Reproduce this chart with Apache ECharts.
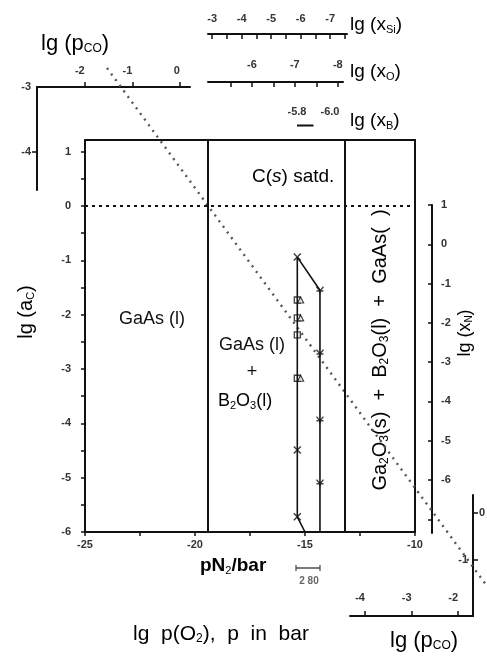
<!DOCTYPE html>
<html><head><meta charset="utf-8">
<script src="https://cdn.jsdelivr.net/npm/echarts@6/dist/echarts.min.js"></script>
<style>html,body{margin:0;padding:0;background:#fff}#c{width:487px;height:657px}</style>
</head><body><div id="c"></div>
<script>
// ---- main diagram: lg p(O2) vs lg a_C ----
const mainXLabels = [-25, -20, -15, -10];
const mainXTicks = [-25, -22.5, -20, -17.5, -15, -12.5, -10];
const mainYLabels = [1, 0, -1, -2, -3, -4, -5, -6];
const mainYTicks = [1, 0.5, 0, -0.5, -1, -1.5, -2, -2.5, -3, -3.5, -4, -4.5, -5, -5.5, -6];
const phaseBoundaries = [-19.4, -13.2];
const carbonSaturation = 0;
const isobarX = [-24.0, -6.7];
const isobarY = [2.54, -7.01];
const loopX = [-15.0, -15.35, -15.35, -14.32, -14.32];
const loopY = [-6.0, -5.72, -0.94, -1.55, -6.0];
const run1X = -15.35;
const run1TriX = -15.2;
const squareY = [-1.73, -2.06, -2.37, -3.17];
const triangleY = [-1.73, -2.06, -3.17];
const crossY = [-0.94, -4.49, -5.72];
const run2X = -14.32;
const starY = [-1.55, -2.71, -3.94, -5.10];
// ---- auxiliary scales ----
const pcoTopXLabels = [-2, -1, 0];
const pcoTopYLabels = [-3, -4];
const pcoBotXLabels = [-4, -3, -2];
const pcoBotYLabelsRight = [0];
const pcoBotYLabelsLeft = [-1];
const xSiLabels = [-3, -4, -5, -6, -7];
const xSiTicks = [-3, -3.5, -4, -4.5, -5, -5.5, -6, -6.5, -7, -7.5];
const xOLabels = [-6, -7, -8];
const xOTicks = [-5.5, -6, -6.5, -7, -7.5, -8];
const xBLabels = [-5.8, -6.0];
const xBSegment = [-5.8, -5.9];
const xNLabels = [1, 0, -1, -2, -3, -4, -5, -6];
const xNTicks = [1, 0, -1, -2, -3, -4, -5, -6, -7];

const FONT = '"Liberation Sans", Arial, sans-serif';
const ink = '#111';
const lbl = {fontSize: 11, color: '#333', fontFamily: FONT, fontWeight: 'bold'};
const line2 = {onZero: false, lineStyle: {color: ink, width: 2}};
const tk = {color: ink, width: 1.5};

function hidden(g, mn, mx) { return {gridIndex: g, type: 'value', show: false, min: mn, max: mx}; }
function G(l, t, w, h) { return {left: l, top: t, width: w, height: h, outerBoundsMode: 'none', containLabel: false}; }

const chart = echarts.init(document.getElementById('c'));
const sub = (s) => ({fontSize: s, fontFamily: FONT, color: ink, padding: [Math.round(s * 0.8), 0, 0, 0]});
const nrm = (s) => ({fontSize: s, fontFamily: FONT, color: ink});

// the extended frame shares the main diagram's scale (22 px per decade of p(O2), 54.33 px per decade of a_C)
const extXMax = -25 + 402 / 22;
const extYMax = 146 / 54.33;
const extYMin = -394 / 54.33;

const option = {
  animation: false,
  backgroundColor: '#fff',
  grid: [
    G(85, 140, 330, 392),
    G(37, 87, 153, 103),
    G(350, 495, 123, 121),
    G(432, 205, 1, 328),
    G(208, 34, 139, 1),
    G(208, 82, 135, 1),
    G(297, 125, 33, 1),
    G(85, 60, 402, 540)
  ],
  xAxis: [
    {gridIndex: 0, type: 'value', min: -25, max: -10, position: 'bottom', splitLine: {show: false},
     axisLine: line2, axisTick: {customValues: mainXTicks, length: 4, lineStyle: tk},
     axisLabel: Object.assign({customValues: mainXLabels, margin: 7}, lbl)},
    {gridIndex: 0, type: 'value', min: -25, max: -10, position: 'top', splitLine: {show: false},
     axisLine: line2, axisTick: {show: false}, axisLabel: {show: false}},
    {gridIndex: 1, type: 'value', min: -3, max: 0.21, position: 'top', splitLine: {show: false},
     axisLine: line2, axisTick: {customValues: pcoTopXLabels, length: 5, lineStyle: tk},
     axisLabel: Object.assign({customValues: pcoTopXLabels, margin: 11, align: 'right'}, lbl)},
    {gridIndex: 2, type: 'value', min: -4.32, max: -1.68, position: 'bottom', splitLine: {show: false},
     axisLine: line2, axisTick: {inside: true, customValues: pcoBotXLabels, length: 5, lineStyle: tk},
     axisLabel: Object.assign({inside: true, customValues: pcoBotXLabels, margin: 13, align: 'right'}, lbl)},
    hidden(3, -1, 1),
    {gridIndex: 4, type: 'value', min: -7.57, max: -2.86, inverse: true, position: 'top', splitLine: {show: false},
     axisLine: line2, axisTick: {inside: true, customValues: xSiTicks, length: 5, lineStyle: tk},
     axisLabel: Object.assign({customValues: xSiLabels, margin: 10}, lbl)},
    {gridIndex: 5, type: 'value', min: -8.12, max: -4.98, inverse: true, position: 'top', splitLine: {show: false},
     axisLine: line2, axisTick: {inside: true, customValues: xOTicks, length: 5, lineStyle: tk},
     axisLabel: Object.assign({customValues: xOLabels, margin: 12}, lbl)},
    {gridIndex: 6, type: 'value', min: -6.0, max: -5.8, inverse: true, position: 'top', splitLine: {show: false},
     axisLine: {show: false, onZero: false}, axisTick: {show: false},
     axisLabel: Object.assign({customValues: xBLabels, margin: 8, formatter: (v) => v.toFixed(1)}, lbl)},
    hidden(7, -25, extXMax)
  ],
  yAxis: [
    {gridIndex: 0, type: 'value', min: -6, max: 1.215, position: 'left', splitLine: {show: false},
     axisLine: line2, axisTick: {customValues: mainYTicks, length: 4, lineStyle: tk},
     axisLabel: Object.assign({customValues: mainYLabels, margin: 14}, lbl)},
    {gridIndex: 0, type: 'value', min: -6, max: 1.215, position: 'right', splitLine: {show: false},
     axisLine: line2, axisTick: {show: false}, axisLabel: {show: false}},
    {gridIndex: 1, type: 'value', min: -4.58, max: -3, position: 'left', splitLine: {show: false},
     axisLine: line2, axisTick: {customValues: [-4], length: 5, lineStyle: tk},
     axisLabel: Object.assign({customValues: pcoTopYLabels, margin: 6}, lbl)},
    {gridIndex: 2, type: 'value', min: -2.21, max: 0.39, position: 'right', splitLine: {show: false},
     axisLine: line2, axisTick: {customValues: [0, -1], length: 5, lineStyle: tk},
     axisLabel: Object.assign({customValues: pcoBotYLabelsRight, margin: 6}, lbl)},
    {gridIndex: 2, type: 'value', min: -2.21, max: 0.39, position: 'right', splitLine: {show: false},
     axisLine: {show: false, onZero: false}, axisTick: {show: false},
     axisLabel: Object.assign({inside: true, customValues: pcoBotYLabelsLeft, margin: 5}, lbl)},
    {gridIndex: 3, type: 'value', min: -7.35, max: 1, position: 'left', splitLine: {show: false},
     axisLine: line2, axisTick: {customValues: xNTicks, length: 4, lineStyle: tk},
     axisLabel: Object.assign({inside: true, customValues: xNLabels, margin: 9}, lbl)},
    hidden(4, -1, 1), hidden(5, -1, 1), hidden(6, -1, 1),
    hidden(7, extYMin, extYMax)
  ],
  series: [
    {type: 'line', xAxisIndex: 8, yAxisIndex: 9, symbol: 'none',
     data: isobarX.map((x, i) => [x, isobarY[i]]),
     lineStyle: {color: '#555', width: 2.4, type: [2, 5]}, z: 1},
    {type: 'line', xAxisIndex: 0, yAxisIndex: 0, symbol: 'none',
     data: loopX.map((x, i) => [x, loopY[i]]),
     lineStyle: {color: ink, width: 1.6},
     markLine: {symbol: 'none', silent: true, label: {show: false},
       data: [
         {xAxis: phaseBoundaries[0], lineStyle: {color: ink, width: 2, type: 'solid'}},
         {xAxis: phaseBoundaries[1], lineStyle: {color: ink, width: 2, type: 'solid'}},
         {yAxis: carbonSaturation, lineStyle: {color: ink, width: 2, type: [3, 4]}}
       ]}},
    {type: 'scatter', xAxisIndex: 0, yAxisIndex: 0, symbol: 'rect', symbolSize: 6,
     data: squareY.map(y => [run1X, y]),
     itemStyle: {color: '#fff', borderColor: ink, borderWidth: 1.3}},
    {type: 'scatter', xAxisIndex: 0, yAxisIndex: 0, symbol: 'triangle', symbolSize: 6,
     data: triangleY.map(y => [run1TriX, y]),
     itemStyle: {color: '#fff', borderColor: ink, borderWidth: 1.2}},
    {type: 'scatter', xAxisIndex: 0, yAxisIndex: 0, symbol: 'path://M0,0L10,10M10,0L0,10', symbolSize: 7,
     data: crossY.map(y => [run1X, y]),
     itemStyle: {color: 'none', borderColor: ink, borderWidth: 1.5}},
    {type: 'scatter', xAxisIndex: 0, yAxisIndex: 0, symbol: 'path://M0,0L5,6L10,0M5,6L5,10M0,6L10,6', symbolSize: 7,
     data: starY.map(y => [run2X, y]),
     itemStyle: {color: 'none', borderColor: ink, borderWidth: 1.4}},
    {type: 'line', xAxisIndex: 7, yAxisIndex: 8, symbol: 'none',
     data: xBSegment.map(x => [x, 0]), lineStyle: {color: ink, width: 2}}
  ],
  graphic: [
    {type: 'text', x: 41, y: 44, style: {text: '{n|lg (p}{s|CO}{n|)}', rich: {n: nrm(22), s: sub(12)}, verticalAlign: 'middle'}},
    {type: 'text', x: 350, y: 25, style: {text: '{n|lg (x}{s|Si}{n|)}', rich: {n: nrm(19), s: sub(11)}, verticalAlign: 'middle'}},
    {type: 'text', x: 350, y: 72, style: {text: '{n|lg (x}{s|O}{n|)}', rich: {n: nrm(19), s: sub(11)}, verticalAlign: 'middle'}},
    {type: 'text', x: 350, y: 121, style: {text: '{n|lg (x}{s|B}{n|)}', rich: {n: nrm(19), s: sub(11)}, verticalAlign: 'middle'}},
    {type: 'text', x: 252, y: 177, style: {text: '{n|C(}{i|s}{n|) satd.}', rich: {n: nrm(19), i: Object.assign(nrm(19), {fontStyle: 'italic'})}, verticalAlign: 'middle'}},
    {type: 'text', x: 152, y: 319, style: {text: 'GaAs (l)', font: '18px ' + FONT, fill: ink, align: 'center', verticalAlign: 'middle'}},
    {type: 'text', x: 252, y: 345, style: {text: 'GaAs (l)', font: '18px ' + FONT, fill: ink, align: 'center', verticalAlign: 'middle'}},
    {type: 'text', x: 252, y: 372, style: {text: '+', font: '18px ' + FONT, fill: ink, align: 'center', verticalAlign: 'middle'}},
    {type: 'text', x: 218, y: 401, style: {text: '{n|B}{s|2}{n|O}{s|3}{n|(l)}', rich: {n: nrm(18), s: sub(11)}, verticalAlign: 'middle'}},
    {type: 'text', x: 380, y: 350, rotation: Math.PI / 2,
     style: {text: '{n|Ga}{s|2}{n|O}{s|3}{n|(s)  +  B}{s|2}{n|O}{s|3}{n|(l)  +  GaAs(  )}', rich: {n: nrm(20), s: sub(12)}, align: 'center', verticalAlign: 'middle'}},
    {type: 'text', x: 465, y: 333, rotation: Math.PI / 2,
     style: {text: '{n|lg (x}{s|N}{n|)}', rich: {n: nrm(18), s: sub(10)}, align: 'center', verticalAlign: 'middle'}},
    {type: 'text', x: 26, y: 312, rotation: Math.PI / 2,
     style: {text: '{n|lg (a}{s|C}{n|)}', rich: {n: nrm(20), s: sub(11)}, align: 'center', verticalAlign: 'middle'}},
    {type: 'text', x: 200, y: 566, style: {text: '{n|pN}{s|2}{n|/bar}', rich: {n: Object.assign(nrm(19), {fontWeight: 'bold'}), s: sub(11)}, verticalAlign: 'middle'}},
    {type: 'line', shape: {x1: 296, y1: 568, x2: 320, y2: 568}, style: {stroke: '#444', lineWidth: 1.4}},
    {type: 'line', shape: {x1: 296, y1: 565, x2: 296, y2: 571}, style: {stroke: '#444', lineWidth: 1.2}},
    {type: 'line', shape: {x1: 320, y1: 565, x2: 320, y2: 571}, style: {stroke: '#444', lineWidth: 1.2}},
    {type: 'text', x: 309, y: 581, style: {text: '2 80', font: 'bold 10px ' + FONT, fill: '#666', align: 'center', verticalAlign: 'middle'}},
    {type: 'text', x: 133, y: 634, style: {text: '{n|lg  p(O}{s|2}{n|),  p  in  bar}', rich: {n: nrm(21), s: sub(12)}, verticalAlign: 'middle'}},
    {type: 'text', x: 390, y: 641, style: {text: '{n|lg (p}{s|CO}{n|)}', rich: {n: nrm(22), s: sub(12)}, verticalAlign: 'middle'}}
  ]
};
chart.setOption(option);
</script></body></html>
